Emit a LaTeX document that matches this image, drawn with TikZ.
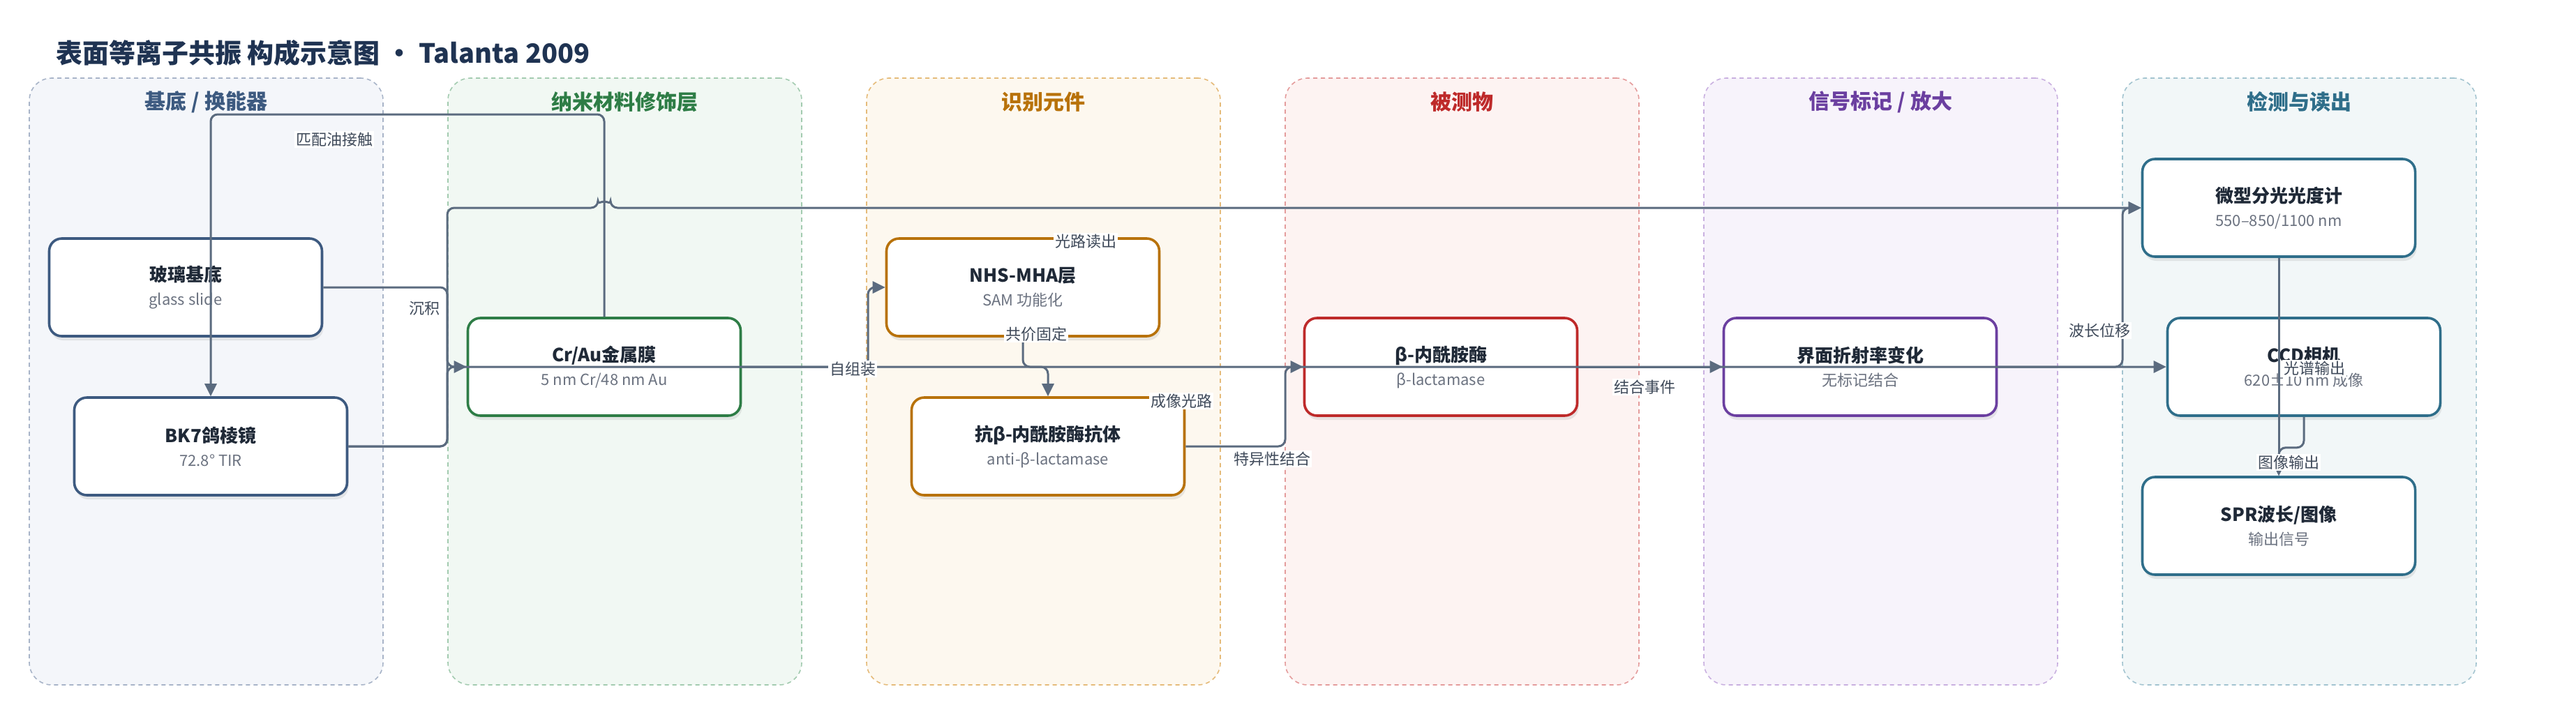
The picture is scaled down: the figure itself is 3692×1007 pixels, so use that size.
\documentclass[tikz,border=0pt]{standalone}
\usepackage{fontspec}
\setmainfont{Noto Sans CJK SC}
\usetikzlibrary{arrows.meta,shadows}

\definecolor{encre}{HTML}{1F2937}
\definecolor{titre}{HTML}{1F3352}
\definecolor{gris}{HTML}{6B7280}
\definecolor{trait}{HTML}{5B6B7F}
\definecolor{etgris}{HTML}{3F4A5A}
% couloirs : fond, bord, entete/bloc
\definecolor{fa}{HTML}{F4F6FA}\definecolor{ba}{HTML}{A8B4C8}\definecolor{ca}{HTML}{3D5A80}
\definecolor{fb}{HTML}{F1F8F3}\definecolor{bb}{HTML}{A3CBB0}\definecolor{cb}{HTML}{2E7D46}
\definecolor{fc}{HTML}{FDF8EF}\definecolor{bc}{HTML}{E5BB7A}\definecolor{cc}{HTML}{B8720A}
\definecolor{fd}{HTML}{FDF3F2}\definecolor{bd}{HTML}{E49C9C}\definecolor{cd}{HTML}{BE2A2A}
\definecolor{fe}{HTML}{F7F3FB}\definecolor{be}{HTML}{C9B0E0}\definecolor{ce}{HTML}{6B3FA0}
\definecolor{ff}{HTML}{F2F7F8}\definecolor{bf}{HTML}{A3C4D0}\definecolor{cf}{HTML}{2F6E8A}

\newcommand\bloctxt[2]{{\bfseries\fontsize{13}{14}\selectfont #1}\\[3pt]{\color{gris}#2}}

\begin{document}
\begin{tikzpicture}[
       x=0.5pt, y=-0.5pt,
       couloir/.style={
         line width=0.8pt,
         dash pattern=on 3pt off 2.5pt,
         rounded corners=16pt,
         minimum width=253.5pt,
         minimum height=435pt,
         inner sep=0pt
       },
       entete/.style={
         font=\fontsize{15}{18}\selectfont\bfseries
       },
       bloc/.style={
         draw,
         fill=white,
         line width=1.8pt,
         rounded corners=9pt,
         minimum width=195.5pt,
         minimum height=70pt,
         align=center,
         text=encre,
         font=\fontsize{11}{14}\selectfont,
         drop shadow={shadow xshift=1pt, shadow yshift=-3pt, opacity=0.16}
       },
       lien/.style={
         draw=trait,
         line width=1.5pt,
         rounded corners=5pt,
         -{Triangle[length=9pt,width=8.5pt]}
       },
       etiq/.style={
         fill=white,
         inner sep=1pt,
         text=etgris,
         font=\fontsize{11}{13}\selectfont
       }
     ]

       \useasboundingbox (0,0) rectangle (3692,1007);

       \node (titre) at (73,90) [anchor=base west,text=titre,font=\fontsize{19}{22}\selectfont\bfseries]
         {表面等离子共振 构成示意图 · Talanta 2009};

       \node (cA) at (295.5,547) [couloir,draw=ba,fill=fa]{};
       \node (cB) at (895.5,547) [couloir,draw=bb,fill=fb]{};
       \node (cC) at (1495.5,547) [couloir,draw=bc,fill=fc]{};
       \node (cD) at (2095.5,547) [couloir,draw=bd,fill=fd]{};
       \node (cE) at (2695.5,547) [couloir,draw=be,fill=fe]{};
       \node (cF) at (3295.5,547) [couloir,draw=bf,fill=ff]{};

       \node (hA) at (295.5,146) [entete,text=ca]{基底 / 换能器};
       \node (hB) at (895.5,146) [entete,text=cb]{纳米材料修饰层};
       \node (hC) at (1495.5,146) [entete,text=cc]{识别元件};
       \node (hD) at (2095.5,146) [entete,text=cd]{被测物};
       \node (hE) at (2695.5,146) [entete,text=ce]{信号标记 / 放大};
       \node (hF) at (3295.5,146) [entete,text=cf]{检测与读出};

       \node (glass) at (266,412) [bloc,draw=ca]{\bloctxt{玻璃基底}{glass slide}};
       \node (bk7) at (302,640) [bloc,draw=ca]{\bloctxt{BK7鸽棱镜}{72.8° TIR}};
       \node (craufilm) at (866,526) [bloc,draw=cb]{\bloctxt{Cr/Au金属膜}{5 nm Cr/48 nm Au}};
       \node (nhs) at (1466,412) [bloc,draw=cc]{\bloctxt{NHS-MHA层}{SAM 功能化}};
       \node (anticorps) at (1502,640) [bloc,draw=cc]{\bloctxt{抗β-内酰胺酶抗体}{anti-β-lactamase}};
       \node (lactam) at (2065,526) [bloc,draw=cd]{\bloctxt{β-内酰胺酶}{β-lactamase}};
       \node (indice) at (2666,526) [bloc,draw=ce]{\bloctxt{界面折射率变化}{无标记结合}};
       \node (spectro) at (3266,298) [bloc,draw=cf]{\bloctxt{微型分光光度计}{550–850/1100 nm}};
       \node (ccd) at (3302,526) [bloc,draw=cf]{\bloctxt{CCD相机}{620±10 nm 成像}};
       \node (spr) at (3266,754) [bloc,draw=cf]{\bloctxt{SPR波长/图像}{输出信号}};

       \coordinate (haut) at (0,164);
       \coordinate (faisceau) at (0,298);
       \coordinate (rail) at (641,0);
       \coordinate (railsam) at (1244,0);
       \coordinate (railab) at (1842,0);
       \coordinate (railspec) at (3042,0);

       \draw[lien] (glass.east) -| (rail |- craufilm.west) -- (craufilm.west);
       \draw[lien] (craufilm.north) |- (bk7.north |- haut) -- (bk7.north);
       \draw[lien] (bk7.east) -| (rail |- faisceau)
         -- ([xshift=-4.5pt]craufilm.north |- faisceau) arc[start angle=180,end angle=0,radius=4.5pt]
         -- (spectro.west);
       \draw[lien] (bk7.east) -| (rail |- ccd.west) -- (ccd.west);
       \draw[lien] (craufilm.east) -| (railsam |- nhs.west) -- (nhs.west);
       \draw[lien] (nhs.south) |- (anticorps.north |- lactam) -- (anticorps.north);
       \draw[lien] (anticorps.east) -| (railab |- lactam.west) -- (lactam.west);
       \draw[lien] (lactam.east) -- (indice.west);
       \draw[lien] (indice.east) -| (railspec |- spectro.west) -- (spectro.west);
       \draw[lien] (spectro.south) -- (spr.north);
       \draw[lien] (ccd.south) -- ++(0,44) -| (spr.north);

       \node (e1) at (608,442) [etiq]{沉积};
       \node (e2) at (479,200) [etiq]{匹配油接触};
       \node (e3) at (1556,346) [etiq]{光路读出};
       \node (e4) at (1693,575) [etiq]{成像光路};
       \node (e5) at (1222,529) [etiq]{自组装};
       \node (e6) at (1485,479) [etiq]{共价固定};
       \node (e7) at (1823,658) [etiq]{特异性结合};
       \node (e8) at (2357,555) [etiq]{结合事件};
       \node (e9) at (3009,474) [etiq]{波长位移};
       \node (e10) at (3317,528) [etiq]{光谱输出};
       \node (e11) at (3280,663) [etiq]{图像输出};

\end{tikzpicture}
\end{document}
